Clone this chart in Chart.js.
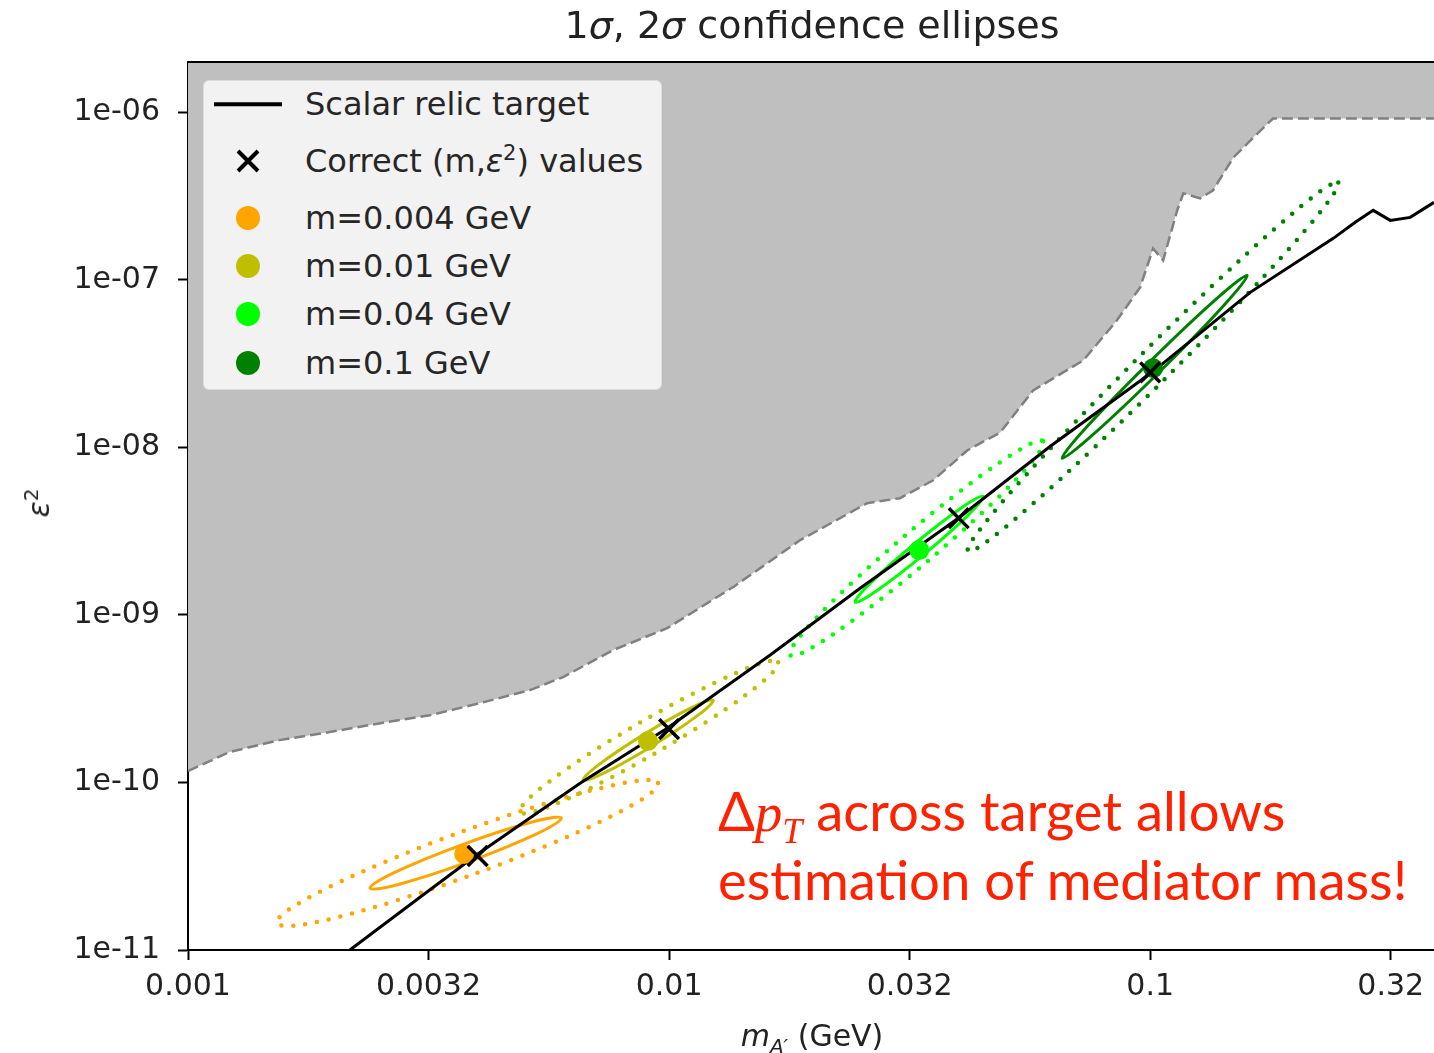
<!DOCTYPE html>
<html>
<head>
<meta charset="utf-8">
<style>
    body {
        margin: 0;
        background: #fff;
        overflow: hidden;
    }

    #wrap {
        position: relative;
        width: 1434px;
        height: 1053px;
        font-family: "DejaVu Sans", sans-serif;
        color: #222;
    }

    #chart {
        position: absolute;
        left: 0;
        top: 0;
    }

    .txt {
        position: absolute;
        white-space: nowrap;
    }

    #title {
        left: 312px;
        width: 1000px;
        top: 5px;
        line-height: 40px;
        font-size: 38px;
        text-align: center;
    }

    #xlabel {
        left: 612px;
        width: 400px;
        top: 1018px;
        line-height: 36px;
        font-size: 30px;
        text-align: center;
    }

    #ylabel {
        left: 35px;
        top: 503px;
        font-size: 30px;
        line-height: 36px;
        transform: translate(-50%, -50%) rotate(-90deg);
    }

    #legend {
        left: 203px;
        top: 80px;
        width: 459px;
        height: 310px;
        background: #f2f2f2;
        border: 1px solid #dcdcdc;
        border-radius: 6px;
        box-sizing: border-box;
    }

    .handle {
        position: absolute;
        left: 44px;
        transform: translate(-50%, -50%);
    }

    .label {
        position: absolute;
        left: 101px;
        transform: translateY(-50%);
        font-size: 32px;
        line-height: 40px;
        color: #262626;
        white-space: nowrap;
    }

    .label sup {
        font-size: 21px;
        line-height: 0;
    }

    #note {
        left: 718px;
        top: 777px;
        font-family: Lato, sans-serif;
        font-size: 54.5px;
        line-height: 66px;
        color: #ff2200;
    }

    #note .mth {
        font-family: "Liberation Serif", serif;
        font-style: italic;
    }

    #note sub {
        font-size: 36px;
        line-height: 0;
    }
</style>
</head>
<body>
<div id="wrap">
    <canvas id="chart" width="1434" height="1053"></canvas>
    <div id="title" class="txt">1<i>σ</i>, 2<i>σ</i> confidence ellipses</div>
    <div id="xlabel" class="txt"><i>m</i><sub style="font-size:20px"><i>A′</i></sub> (GeV)</div>
    <div id="ylabel" class="txt"><i>ε</i><sup style="font-size:20px">2</sup></div>
    <div id="legend" class="txt"></div>
    <div id="note" class="txt">Δ<span class="mth">p</span><sub class="mth">T</sub> across target allows<br>estimation of mediator mass!</div>
</div>

<script src="https://cdn.jsdelivr.net/npm/chart.js"></script>
<script>
    // axis ticks
    const xTickValues = [0.001, 0.0031623, 0.01, 0.031623, 0.1, 0.31623];
    const xTickLabels = ['0.001', '0.0032', '0.01', '0.032', '0.1', '0.32'];
    const yTickValues = [1e-11, 1e-10, 1e-9, 1e-8, 1e-7, 1e-6];
    const yTickLabels = ['1e-11', '1e-10', '1e-09', '1e-08', '1e-07', '1e-06'];

    // edge of the excluded (grey) region
    const boundM = [0.001, 0.00122, 0.00155, 0.00197, 0.00251, 0.00318, 0.00405, 0.00514, 0.00602, 0.00765,
        0.00991, 0.0136, 0.0187, 0.0258, 0.0302, 0.0354, 0.0417, 0.0488, 0.0571, 0.0726,
        0.0853, 0.0953, 0.1014, 0.1064, 0.1138, 0.1172, 0.127, 0.135, 0.149, 0.164, 0.180, 0.40];
    const boundEps = [1.17e-10, 1.52e-10, 1.79e-10, 2.0e-10, 2.26e-10, 2.52e-10, 2.98e-10, 3.56e-10, 4.26e-10, 6.17e-10,
        8.34e-10, 1.47e-9, 2.79e-9, 4.65e-9, 4.98e-9, 6.37e-9, 9.62e-9, 1.23e-8, 2.19e-8, 3.31e-8,
        5.74e-8, 9.03e-8, 1.54e-7, 1.31e-7, 2.60e-7, 3.29e-7, 3.07e-7, 3.42e-7, 5.39e-7, 7.10e-7, 9.2e-7, 9.2e-7];

    // scalar relic target line
    const relicM = [0.00217, 0.00304, 0.00399, 0.00653, 0.00991, 0.0162, 0.02495, 0.0399, 0.0620, 0.1009,
        0.1614, 0.2402, 0.2668, 0.2908, 0.3155, 0.3471, 0.389];
    const relicEps = [1.0e-11, 2.07e-11, 3.72e-11, 9.91e-11, 2.11e-10, 5.75e-10, 1.445e-9, 3.78e-9, 1.017e-8, 2.81e-8,
        8.43e-8, 1.771e-7, 2.207e-7, 2.602e-7, 2.268e-7, 2.363e-7, 2.904e-7];

    // true (m, eps^2) and fitted centres, one per mass
    const trueM = [0.004, 0.01, 0.04, 0.1];
    const trueEps = [3.64e-11, 2.08e-10, 3.78e-9, 2.81e-8];
    const fitM = [0.00375, 0.00904, 0.0331, 0.1014];
    const fitEps = [3.74e-11, 1.77e-10, 2.44e-9, 2.97e-8];

    // ellipses: long-axis end, other long-axis end, short-axis end (m, eps^2)
    const ellipse1Sigma = [
        [[0.00239, 2.34e-11], [0.00597, 6.13e-11], [0.00372, 4.26e-11]],
        [[0.006625, 1.033e-10], [0.01235, 3.10e-10], [0.008885, 1.944e-10]],
        [[0.02436, 1.192e-9], [0.04496, 5.114e-9], [0.03238, 2.66e-9]],
        [[0.0656, 8.62e-9], [0.1591, 1.065e-7], [0.09982, 3.245e-8]]
    ];
    const ellipse2Sigma = [
        [[0.001531, 1.449e-11], [0.009486, 9.92e-11], [0.003675, 5.035e-11]],
        [[0.0049, 6.66e-11], [0.01685, 5.23e-10], [0.00872, 2.284e-10]],
        [[0.01785, 5.756e-10], [0.0599, 1.089e-8], [0.03102, 2.993e-9]],
        [[0.04183, 2.403e-9], [0.246, 3.822e-7], [0.0958, 3.573e-8]]
    ];

    const massColors = ['#ffa500', '#bfbf00', '#00ff00', '#008000'];

    const pts = (xs, ys) => xs.map((x, i) => ({ x: x, y: ys[i] }));

    // legend (html, drawn over the plot)
    const legendRows = [23, 80, 137, 185, 233, 282];
    const legendLabels = ['Scalar relic target', 'Correct (m,<i>ε</i><sup>2</sup>) values']
        .concat(trueM.map(m => 'm=' + m + ' GeV'));
    const legend = document.getElementById('legend');
    legendLabels.forEach((lab, i) => {
        let handle;
        if (i === 0) {
            handle = '<div style="width:68px;height:3.5px;background:#000"></div>';
        } else if (i === 1) {
            handle = '<svg width="26" height="26" style="display:block"><path d="M3 3L23 23M23 3L3 23" stroke="#000" stroke-width="4"/></svg>';
        } else {
            handle = '<div style="width:24px;height:24px;border-radius:50%;background:' + massColors[i - 2] + '"></div>';
        }
        legend.insertAdjacentHTML('beforeend',
            '<div class="handle" style="top:' + legendRows[i] + 'px">' + handle + '</div>' +
            '<div class="label" style="top:' + legendRows[i] + 'px">' + lab + '</div>');
    });

    function drawEllipse(ctx, x, y, spec, dotted) {
        const p = spec.map(([m, e]) => [x.getPixelForValue(m), y.getPixelForValue(e)]);
        const cx = (p[0][0] + p[1][0]) / 2;
        const cy = (p[0][1] + p[1][1]) / 2;
        const a = Math.hypot(p[1][0] - p[0][0], p[1][1] - p[0][1]) / 2;
        const b = Math.hypot(p[2][0] - cx, p[2][1] - cy);
        const ang = Math.atan2(p[1][1] - p[0][1], p[1][0] - p[0][0]);
        ctx.beginPath();
        ctx.ellipse(cx, cy, a, b, ang, 0, Math.PI * 2);
        if (dotted) {
            ctx.setLineDash([0, 12]);
            ctx.lineCap = 'round';
            ctx.lineWidth = 4.5;
        } else {
            ctx.setLineDash([]);
            ctx.lineCap = 'butt';
            ctx.lineWidth = 3;
        }
        ctx.stroke();
    }

    const ellipsePlugin = {
        id: 'ellipses',
        beforeDatasetDraw(chart, args) {
            if (args.index !== 1) return;
            const { ctx, chartArea: area, scales: { x, y } } = chart;
            ctx.save();
            ctx.beginPath();
            ctx.rect(area.left, area.top, area.right - area.left, area.bottom - area.top);
            ctx.clip();
            massColors.forEach((c, i) => {
                ctx.strokeStyle = c;
                drawEllipse(ctx, x, y, ellipse2Sigma[i], true);
                drawEllipse(ctx, x, y, ellipse1Sigma[i], false);
            });
            ctx.restore();
        },
        afterDatasetsDraw(chart) {
            // top spine
            const { ctx, chartArea: area } = chart;
            ctx.save();
            ctx.strokeStyle = '#000';
            ctx.lineWidth = 2;
            ctx.beginPath();
            ctx.moveTo(area.left, area.top);
            ctx.lineTo(area.right, area.top);
            ctx.stroke();
            ctx.restore();
        }
    };

    const tickFont = { family: 'DejaVu Sans', size: 30 };

    new Chart(document.getElementById('chart'), {
        type: 'scatter',
        data: {
            datasets: [
                {
                    label: 'Excluded',
                    data: pts(boundM, boundEps),
                    showLine: true,
                    fill: 'end',
                    backgroundColor: '#bfbfbf',
                    borderColor: '#808080',
                    borderWidth: 2.5,
                    borderDash: [11, 5],
                    pointRadius: 0,
                    order: 5
                },
                {
                    label: 'Scalar relic target',
                    data: pts(relicM, relicEps),
                    showLine: true,
                    borderColor: '#000',
                    borderWidth: 3,
                    pointRadius: 0,
                    order: 4
                },
                {
                    label: 'Fit',
                    data: pts(fitM, fitEps),
                    pointRadius: 10,
                    pointBackgroundColor: massColors,
                    pointBorderWidth: 0,
                    order: 2
                },
                {
                    label: 'Correct (m,ε²) values',
                    data: pts(trueM, trueEps),
                    pointStyle: 'crossRot',
                    pointRadius: 14,
                    pointBorderColor: '#000',
                    pointBorderWidth: 3.5,
                    order: 1
                }
            ]
        },
        options: {
            responsive: false,
            animation: false,
            events: [],
            layout: { autoPadding: false, padding: { top: 62, left: 0, right: 0, bottom: 0 } },
            plugins: {
                legend: { display: false },
                tooltip: { enabled: false },
                title: { display: false }
            },
            scales: {
                x: {
                    type: 'logarithmic',
                    min: 0.001,
                    max: 0.389,
                    z: 1,
                    afterBuildTicks: s => { s.ticks = xTickValues.map(v => ({ value: v })); },
                    afterFit: s => { s.height = 103; s.paddingLeft = 0; s.paddingRight = 0; },
                    grid: { drawOnChartArea: false, drawTicks: true, tickLength: 10, tickWidth: 2, tickColor: '#000' },
                    border: { display: true, color: '#000', width: 2 },
                    ticks: {
                        autoSkip: false,
                        maxRotation: 0,
                        padding: 9,
                        color: '#222',
                        font: tickFont,
                        callback: (v, i) => xTickLabels[i]
                    }
                },
                y: {
                    type: 'logarithmic',
                    min: 1e-11,
                    max: 2e-6,
                    z: 1,
                    afterBuildTicks: s => { s.ticks = yTickValues.map(v => ({ value: v })); },
                    afterFit: s => { s.width = 188; s.paddingTop = 0; s.paddingBottom = 0; },
                    grid: { drawOnChartArea: false, drawTicks: true, tickLength: 10, tickWidth: 2, tickColor: '#000' },
                    border: { display: true, color: '#000', width: 2 },
                    ticks: {
                        autoSkip: false,
                        padding: 18,
                        color: '#222',
                        font: tickFont,
                        callback: (v, i) => yTickLabels[i]
                    }
                }
            }
        },
        plugins: [ellipsePlugin]
    });
</script>
</body>
</html>
